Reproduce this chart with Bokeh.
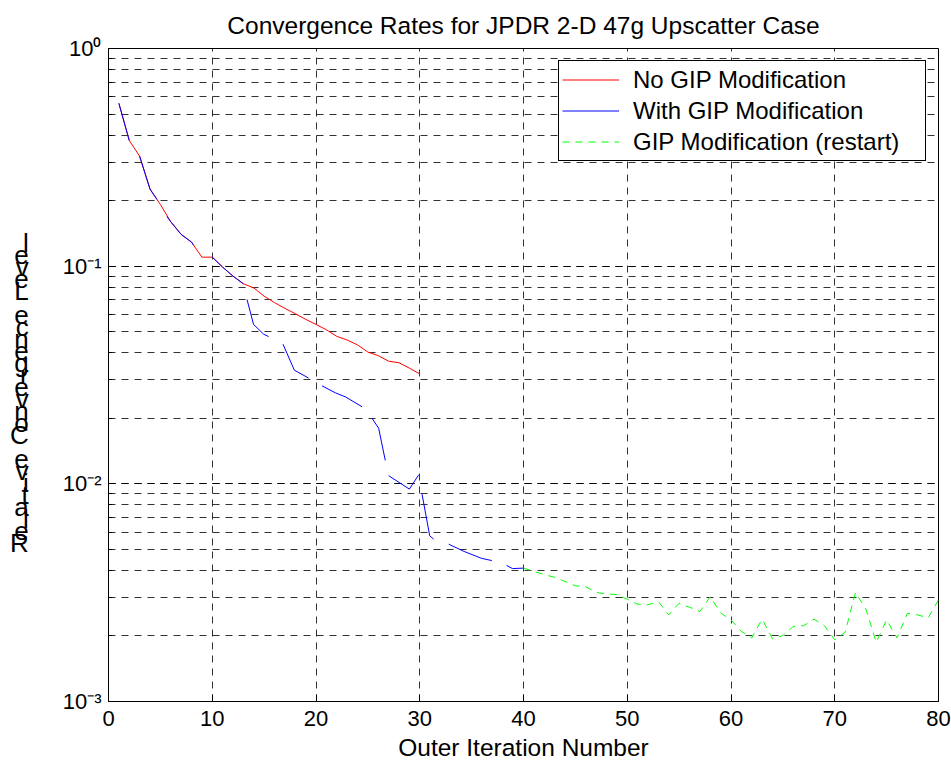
import math
from bokeh.plotting import figure
from bokeh.models import (Legend, LegendItem,
                          CustomJSTickFormatter, SingleIntervalTicker, Range1d, LogTicker)
from bokeh.embed import file_html
from bokeh.resources import INLINE

nan = float("nan")

title_text = "Convergence Rates for JPDR 2-D 47g Upscatter Case"
x_label = "Outer Iteration Number"
y_label = "Relative Convergence Level"
series_names = ["No GIP Modification", "With GIP Modification", "GIP Modification (restart)"]

red_iter = list(range(1, 31))
red_level = [0.56, 0.378, 0.32, 0.226, 0.192, 0.16, 0.14, 0.129, 0.110, 0.110,
             0.099, 0.090, 0.083, 0.0795, 0.0728, 0.068, 0.064, 0.0605, 0.057, 0.054,
             0.051, 0.0476, 0.0458, 0.0435, 0.0403, 0.0388, 0.0366, 0.036, 0.034, 0.032]

blue_iter = [1, 2, nan,
             3, 4, 4.67, nan,
             5.63, 6, 7, 8, 8.2, nan,
             10, 11, 12, 13, nan,
             13.35, 13.98, 14.95, 15.43, nan,
             16.82, 17.91, 19.29, nan,
             20.58, 21.86, 22.83, 24.44, nan,
             25.4, 26.04, 26.68, nan,
             27.0, 29.0, 29.9, nan,
             30.22, 30.96, 31.34, nan,
             32.79, 34.28, 35.94, 36.94, nan,
             38.37, 38.93, 40.0]
blue_level = [0.56, 0.378, nan,
              0.32, 0.226, 0.2025, nan,
              0.169, 0.16, 0.14, 0.129, 0.125, nan,
              0.110, 0.099, 0.090, 0.083, nan,
              0.0703, 0.054, 0.0487, 0.0475, nan,
              0.0438, 0.0333, 0.0306, nan,
              0.0282, 0.0262, 0.0251, 0.0226, nan,
              0.020, 0.018, 0.0128, nan,
              0.0109, 0.00946, 0.011, nan,
              0.00897, 0.00577, 0.00557, nan,
              0.00528, 0.00489, 0.00455, 0.00444, nan,
              0.00422, 0.00408, 0.0041]

green_iter = list(range(40, 81))
green_level = [0.0041, 0.00396, 0.00383, 0.00372, 0.00356, 0.0034, 0.00337, 0.00317, 0.00312, 0.0031,
               0.00295, 0.0028, 0.00278, 0.00288, 0.0025, 0.00283, 0.00271, 0.00259, 0.00303, 0.00255,
               0.00237, 0.0021, 0.00196, 0.00239, 0.00194, 0.00201, 0.00221, 0.00223, 0.00239, 0.00223,
               0.00192, 0.00208, 0.00317, 0.00266, 0.00187, 0.00237, 0.00196, 0.00254, 0.0025, 0.00242,
               0.00293]

FONT = "Liberation Sans"

p = figure(width=951, height=767, output_backend="svg", toolbar_location=None,
           y_axis_type="log", x_range=Range1d(0, 80), y_range=Range1d(1e-3, 1),
           min_border_left=108, min_border_right=13, min_border_top=47, min_border_bottom=66,
           background_fill_color="white", border_fill_color="white")

p.title.text = title_text
p.title.align = "center"
p.title.text_font = FONT
p.title.text_font_size = "24.5px"
p.title.text_font_style = "normal"
p.title.text_color = "black"
p.title.standoff = 19

p.outline_line_color = "black"
p.outline_line_width = 1

# bottom axis
xa = p.xaxis[0]
xa.ticker = SingleIntervalTicker(interval=10, num_minor_ticks=0)
xa.axis_label = x_label
xa.axis_label_text_font = FONT
xa.axis_label_text_font_size = "24.5px"
xa.axis_label_text_font_style = "normal"
xa.axis_label_text_color = "black"
xa.axis_label_standoff = 5
xa.major_label_text_font = FONT
xa.major_label_text_font_size = "22px"
xa.major_label_text_color = "black"
xa.major_label_standoff = 9
xa.major_tick_in = 7
xa.major_tick_out = 0
xa.minor_tick_line_color = None
xa.axis_line_color = "black"
xa.major_tick_line_color = "black"

# left axis
ya = p.yaxis[0]
ya.ticker = LogTicker(num_minor_ticks=10)
ya.formatter = CustomJSTickFormatter(code="""
const map = {"-": "\u207b", "0": "\u2070", "1": "\u00b9", "2": "\u00b2", "3": "\u00b3",
             "4": "\u2074", "5": "\u2075", "6": "\u2076", "7": "\u2077", "8": "\u2078", "9": "\u2079"};
const e = Math.round(Math.log10(tick));
return "10" + String(e).split("").map(c => map[c]).join("");
""")
ya.major_label_text_font = FONT
ya.major_label_text_font_size = "22px"
ya.major_label_text_color = "black"
ya.major_label_standoff = 7
ya.major_tick_in = 7
ya.major_tick_out = 0
ya.minor_tick_in = 4
ya.minor_tick_out = 0
ya.axis_line_color = "black"
ya.major_tick_line_color = "black"
ya.minor_tick_line_color = "black"
# stacked, upright letters (as in the reference), read bottom-to-top
ya.axis_label = "\n".join(["\u00a0"] * 3 + list(reversed(y_label)))
ya.axis_label_orientation = "horizontal"
ya.axis_label_text_font = FONT
ya.axis_label_text_font_size = "26px"
ya.axis_label_text_font_style = "normal"
ya.axis_label_text_color = "black"
ya.axis_label_text_line_height = 0.40
ya.axis_label_text_align = "center"
ya.axis_label_standoff = 31

# grids
for g in (p.xgrid, p.ygrid):
    g.grid_line_color = "black"
    g.grid_line_alpha = 0.8
    g.grid_line_dash = "7 6"
    g.grid_line_width = 1
p.ygrid.minor_grid_line_color = "black"
p.ygrid.minor_grid_line_alpha = 0.8
p.ygrid.minor_grid_line_dash = "7 6"

r_red = p.line(red_iter, red_level, line_color="#ff0000", line_width=1)
r_blue = p.line(blue_iter, blue_level, line_color="#0000ff", line_width=1)
r_green = p.line(green_iter, green_level, line_color="#00ff00", line_width=1, line_dash="7 6")

legend = Legend(items=[LegendItem(label=series_names[0], renderers=[r_red]),
                       LegendItem(label=series_names[1], renderers=[r_blue]),
                       LegendItem(label=series_names[2], renderers=[r_green])],
                location="top_right", label_text_font=FONT, label_text_font_size="24px",
                label_text_color="black",
                border_line_color="black", border_line_width=1, border_line_alpha=1,
                background_fill_color="white", background_fill_alpha=1,
                padding=3, spacing=0, margin=12, glyph_width=57, glyph_height=31,
                label_height=31, label_width=289, label_standoff=14)
p.add_layout(legend)

open("out.html", "w").write(file_html(p, INLINE))
